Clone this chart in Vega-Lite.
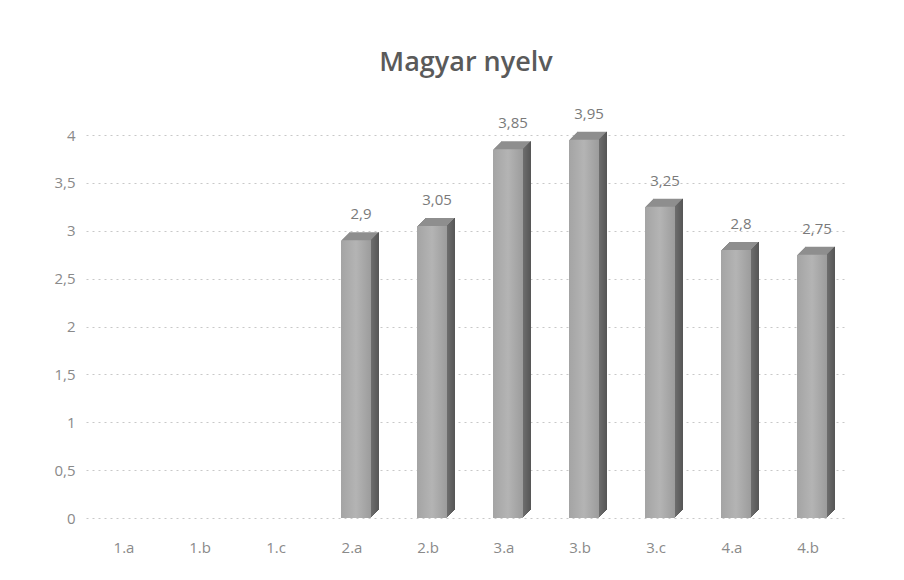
{
  "$schema": "https://vega.github.io/schema/vega-lite/v6.json",
  "autosize": {"type": "none"},
  "width": 760,
  "height": 383,
  "padding": {"left": 86, "top": 135, "right": 58, "bottom": 62},
  "background": "white",
  "config": {
    "locale": {"number": {"decimal": ",", "thousands": " ", "grouping": [3], "currency": ["", " Ft"]}},
    "view": {"stroke": null},
    "font": "Open Sans"
  },
  "title": {
    "text": "Magyar nyelv",
    "fontSize": 27,
    "fontWeight": 600,
    "color": "#5a5a5a",
    "font": "Open Sans",
    "offset": 30,
    "anchor": "middle"
  },
  "data": {
    "values": [
      {"osztaly": "2.a", "atlag": 2.9},
      {"osztaly": "2.b", "atlag": 3.05},
      {"osztaly": "3.a", "atlag": 3.85},
      {"osztaly": "3.b", "atlag": 3.95},
      {"osztaly": "3.c", "atlag": 3.25},
      {"osztaly": "4.a", "atlag": 2.8},
      {"osztaly": "4.b", "atlag": 2.75}
    ]
  },
  "encoding": {
    "x": {
      "field": "osztaly",
      "type": "nominal",
      "sort": null,
      "scale": {"domain": ["1.a", "1.b", "1.c", "2.a", "2.b", "3.a", "3.b", "3.c", "4.a", "4.b"], "paddingInner": 0, "paddingOuter": 0},
      "axis": {
        "title": null,
        "labelAngle": 0,
        "domain": false,
        "ticks": false,
        "labelPadding": 22,
        "labelFontSize": 15,
        "labelColor": "#8a8a8a",
        "labelFont": "Open Sans"
      }
    },
    "y": {
      "field": "atlag",
      "type": "quantitative",
      "scale": {"domain": [0, 4], "nice": false},
      "axis": {
        "title": null,
        "values": [0, 0.5, 1, 1.5, 2, 2.5, 3, 3.5, 4],
        "format": "~g",
        "domain": false,
        "ticks": false,
        "labelPadding": 11,
        "labelFontSize": 15,
        "labelColor": "#8a8a8a",
        "labelFont": "Open Sans",
        "gridColor": "#c8c8c8",
        "gridDash": [2, 4],
        "gridWidth": 1
      }
    }
  },
  "layer": [
    {"mark": {"type": "bar", "size": 30, "xOffset": 12, "yOffset": -8, "color": {"gradient": "linear", "x1": 0, "y1": 0, "x2": 1, "y2": 0, "stops": [{"offset": 0, "color": "#8e8e8e"}, {"offset": 0.95, "color": "#8e8e8e"}, {"offset": 0.96, "color": "#575757"}, {"offset": 1, "color": "#575757"}]}}},
    {"mark": {"type": "bar", "size": 30, "xOffset": 11, "yOffset": -7, "color": {"gradient": "linear", "x1": 0, "y1": 0, "x2": 1, "y2": 0, "stops": [{"offset": 0, "color": "#8e8e8e"}, {"offset": 0.95, "color": "#8e8e8e"}, {"offset": 0.96, "color": "#5a5a5a"}, {"offset": 1, "color": "#5a5a5a"}]}}},
    {"mark": {"type": "bar", "size": 30, "xOffset": 10, "yOffset": -6, "color": {"gradient": "linear", "x1": 0, "y1": 0, "x2": 1, "y2": 0, "stops": [{"offset": 0, "color": "#8e8e8e"}, {"offset": 0.95, "color": "#8e8e8e"}, {"offset": 0.96, "color": "#5d5d5d"}, {"offset": 1, "color": "#5d5d5d"}]}}},
    {"mark": {"type": "bar", "size": 30, "xOffset": 9, "yOffset": -5, "color": {"gradient": "linear", "x1": 0, "y1": 0, "x2": 1, "y2": 0, "stops": [{"offset": 0, "color": "#8e8e8e"}, {"offset": 0.95, "color": "#8e8e8e"}, {"offset": 0.96, "color": "#606060"}, {"offset": 1, "color": "#606060"}]}}},
    {"mark": {"type": "bar", "size": 30, "xOffset": 8, "yOffset": -4, "color": {"gradient": "linear", "x1": 0, "y1": 0, "x2": 1, "y2": 0, "stops": [{"offset": 0, "color": "#8e8e8e"}, {"offset": 0.95, "color": "#8e8e8e"}, {"offset": 0.96, "color": "#636363"}, {"offset": 1, "color": "#636363"}]}}},
    {"mark": {"type": "bar", "size": 30, "xOffset": 7, "yOffset": -3, "color": {"gradient": "linear", "x1": 0, "y1": 0, "x2": 1, "y2": 0, "stops": [{"offset": 0, "color": "#8e8e8e"}, {"offset": 0.95, "color": "#8e8e8e"}, {"offset": 0.96, "color": "#666666"}, {"offset": 1, "color": "#666666"}]}}},
    {"mark": {"type": "bar", "size": 30, "xOffset": 6, "yOffset": -2, "color": {"gradient": "linear", "x1": 0, "y1": 0, "x2": 1, "y2": 0, "stops": [{"offset": 0, "color": "#8e8e8e"}, {"offset": 0.95, "color": "#8e8e8e"}, {"offset": 0.96, "color": "#696969"}, {"offset": 1, "color": "#696969"}]}}},
    {"mark": {"type": "bar", "size": 30, "xOffset": 5, "yOffset": -1, "color": {"gradient": "linear", "x1": 0, "y1": 0, "x2": 1, "y2": 0, "stops": [{"offset": 0, "color": "#8e8e8e"}, {"offset": 0.95, "color": "#8e8e8e"}, {"offset": 0.96, "color": "#6c6c6c"}, {"offset": 1, "color": "#6c6c6c"}]}}},
    {
      "mark": {
        "type": "bar",
        "size": 30,
        "xOffset": 4,
        "color": {
          "gradient": "linear",
          "x1": 0, "y1": 0, "x2": 1, "y2": 0,
          "stops": [
            {"offset": 0, "color": "#a4a4a4"},
            {"offset": 0.5, "color": "#b4b4b4"},
            {"offset": 1, "color": "#9c9c9c"}
          ]
        }
      }
    },
    {
      "mark": {"type": "text", "dy": -26, "dx": 9, "fontSize": 15, "color": "#7a7a7a", "font": "Open Sans"},
      "encoding": {
        "text": {"field": "atlag", "type": "quantitative", "format": "~g"}
      }
    }
  ]
}
